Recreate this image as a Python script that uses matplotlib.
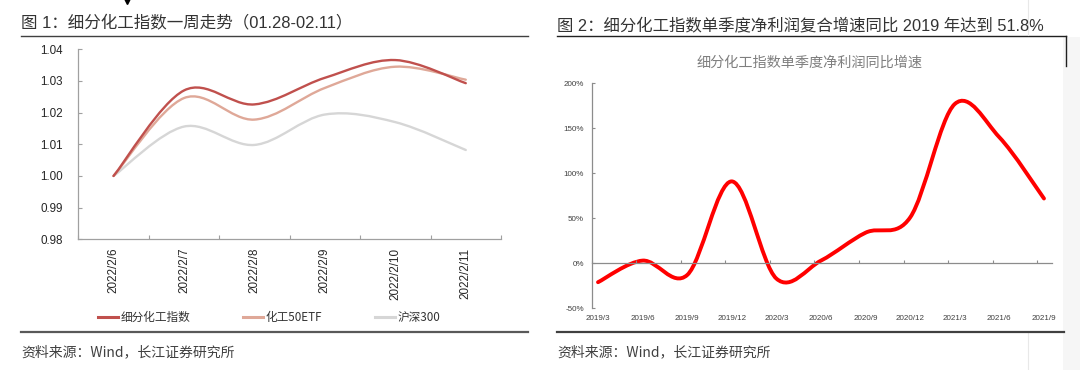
"""
Two-panel chart: weekly index trend + quarterly net profit growth
"""
import numpy as np
import matplotlib
matplotlib.use('Agg')
import matplotlib.pyplot as plt
from matplotlib.path import Path
from matplotlib.patches import PathPatch, Rectangle
from matplotlib.lines import Line2D

plt.rcParams['font.family'] = ['Liberation Sans', 'Noto Sans CJK SC']
CJK = ['Noto Sans CJK SC', 'Liberation Sans']

# ---- data: figure 1 ----
days = ['2022/2/6', '2022/2/7', '2022/2/8', '2022/2/9', '2022/2/10', '2022/2/11']
chem_index = [1.000, 1.0270, 1.0226, 1.0310, 1.0366, 1.0293]
chem_etf = [1.000, 1.0246, 1.0178, 1.0278, 1.0345, 1.0304]
hs300 = [1.000, 1.0156, 1.0098, 1.0194, 1.0170, 1.0082]
series_names = ['细分化工指数', '化工50ETF', '沪深300']
y1_ticks = [0.98, 0.99, 1.00, 1.01, 1.02, 1.03, 1.04]

# ---- data: figure 2 ----
quarters = ['2019/3', '2019/6', '2019/9', '2019/12', '2020/3', '2020/6',
            '2020/9', '2020/12', '2021/3', '2021/6', '2021/9']
profit_growth = [-21, 3, -13, 91, -17, 3, 34, 51, 177, 140, 72]
y2_ticks = [-50, 0, 50, 100, 150, 200]

W, H = 1080, 370


def fx(x):
    return x / W


def fy(y):
    return 1 - y / H


def smooth_path(xs, ys):
    """Excel-like smoothed line: Catmull-Rom through the points as cubic Beziers"""
    pts = np.column_stack([xs, ys]).astype(float)
    n = len(pts)
    verts = [pts[0]]
    codes = [Path.MOVETO]
    for i in range(n - 1):
        p0 = pts[i - 1] if i > 0 else pts[i]
        p1, p2 = pts[i], pts[i + 1]
        p3 = pts[i + 2] if i + 2 < n else pts[i + 1]
        verts += [p1 + (p2 - p0) / 6, p2 - (p3 - p1) / 6, p2]
        codes += [Path.CURVE4] * 3
    return Path(verts, codes)


fig = plt.figure(figsize=(10.8, 3.7), dpi=100)

# page decorations
fig.text(fx(21), fy(22.4), '图 1：细分化工指数一周走势（01.28-02.11）', fontsize=11.9,
         color='#333333', va='center', ha='left')
fig.text(fx(557), fy(25.5), '图 2：细分化工指数单季度净利润复合增速同比 2019 年达到 51.8%', fontsize=11.8,
         color='#333333', va='center', ha='left')
fig.add_artist(Line2D([fx(21), fx(528)], [fy(36.2)] * 2, color='#404040', lw=1.0))
fig.add_artist(Line2D([fx(557), fx(1066)], [fy(36.2)] * 2, color='#202020', lw=1.0))
fig.add_artist(Line2D([fx(1066)] * 2, [fy(36.2), fy(66)], color='#202020', lw=1.0))
fig.add_artist(Rectangle((fx(1063), 0), fx(17), fy(37), color='#F6F6F6', lw=0, zorder=-1))
fig.add_artist(Line2D([fx(1028)] * 2, [fy(0), fy(35)], color='#E8E8E8', lw=0.8))
fig.add_artist(Line2D([fx(1028)] * 2, [fy(333), fy(370)], color='#E8E8E8', lw=0.8))
fig.add_artist(Line2D([fx(21), fx(528)], [fy(331.7)] * 2, color='#595959', lw=1.6))
fig.add_artist(Line2D([fx(557), fx(1064)], [fy(331.7)] * 2, color='#404040', lw=1.6))
fig.text(fx(21), fy(352.7), '资料来源：Wind，长江证券研究所', fontsize=10, color='#404040',
         va='center', ha='left', family=CJK)
fig.text(fx(557), fy(352.7), '资料来源：Wind，长江证券研究所', fontsize=10, color='#404040',
         va='center', ha='left', family=CJK)
fig.add_artist(Line2D([fx(127)], [fy(1)], marker='v', color='black', markersize=5))

# ---- figure 1 ----
ax1 = fig.add_axes([fx(78.3), fy(239.3), fx(501 - 78.3), fy(49.3) - fy(239.3)])
xpos = np.arange(len(days))
colors1 = ['#C0504D', '#DFA898', '#D6D6D6']
for vals, col in zip([hs300, chem_etf, chem_index], colors1[::-1]):
    ax1.add_patch(PathPatch(smooth_path(xpos, vals), fill=False, edgecolor=col,
                            lw=1.7, capstyle='round', joinstyle='round'))
ax1.set_xlim(-0.5, len(days) - 0.5)
ax1.set_ylim(y1_ticks[0], y1_ticks[-1])
ax1.set_yticks(y1_ticks)
ax1.set_yticklabels([f'{v:.2f}' for v in y1_ticks])
ax1.set_xticks(np.arange(len(days) + 1) - 0.5)
ax1.set_xticklabels([])
ax1.set_xticks(xpos, minor=True)
ax1.set_xticklabels(days, minor=True, rotation=90, va='top', ha='center')
ax1.tick_params(axis='x', which='major', direction='in', length=3, color='#A0A0A0')
ax1.tick_params(axis='x', which='minor', length=0, pad=6, labelsize=8.4, labelcolor='#262626')
ax1.tick_params(axis='y', direction='in', length=3, color='#A0A0A0', pad=11.2,
                labelsize=8.4, labelcolor='#262626')
for s in ['top', 'right']:
    ax1.spines[s].set_visible(False)
for s in ['left', 'bottom']:
    ax1.spines[s].set_color('#A0A0A0')
    ax1.spines[s].set_linewidth(0.9)

handles = [Line2D([], [], color=c, lw=2.2) for c in colors1]
ax1.legend(handles, series_names, ncol=3, frameon=False, loc='center left',
           bbox_to_anchor=(fx(98), fy(317.7)), bbox_transform=fig.transFigure,
           borderpad=0, borderaxespad=0, handlelength=1.75, handletextpad=0.2,
           columnspacing=4.5, prop={'family': CJK, 'size': 8.4}, labelcolor='#333333')

# ---- figure 2 ----
off = 0.146
ax2 = fig.add_axes([fx(591.5), fy(308.3), fx(1052 - 591.5), fy(83.3) - fy(308.3)])
qpos = np.arange(len(quarters))
ax2.add_patch(PathPatch(smooth_path(qpos, profit_growth), fill=False, edgecolor='#FF0000',
                        lw=2.8, capstyle='round', joinstyle='round'))
ax2.set_xlim(-off, 10.18)
ax2.set_ylim(y2_ticks[0], y2_ticks[-1])
ax2.set_yticks(y2_ticks)
ax2.set_yticklabels([f'{v}%' for v in y2_ticks])
ax2.set_xticks(qpos - off)
ax2.set_xticklabels([])
ax2.spines['bottom'].set_position(('data', 0))
for s in ['top', 'right']:
    ax2.spines[s].set_visible(False)
for s in ['left', 'bottom']:
    ax2.spines[s].set_color('#8C8C8C')
    ax2.spines[s].set_linewidth(0.9)
ax2.tick_params(axis='x', direction='in', length=2.5, color='#8C8C8C')
ax2.tick_params(axis='y', direction='in', length=2.5, color='#8C8C8C', pad=5.4,
                labelsize=5.8, labelcolor='#404040')
sec = ax2.secondary_xaxis('bottom')
sec.set_xticks(qpos)
sec.set_xticklabels(quarters)
sec.tick_params(length=0, pad=4.6, labelsize=5.8, labelcolor='#404040')
sec.spines['bottom'].set_visible(False)
fig.text(fx(809.6), fy(63), '细分化工指数单季度净利润同比增速', fontsize=10.2, color='#7F7F7F',
         family=CJK, ha='center', va='center')

fig.savefig('out.png', dpi=100)
